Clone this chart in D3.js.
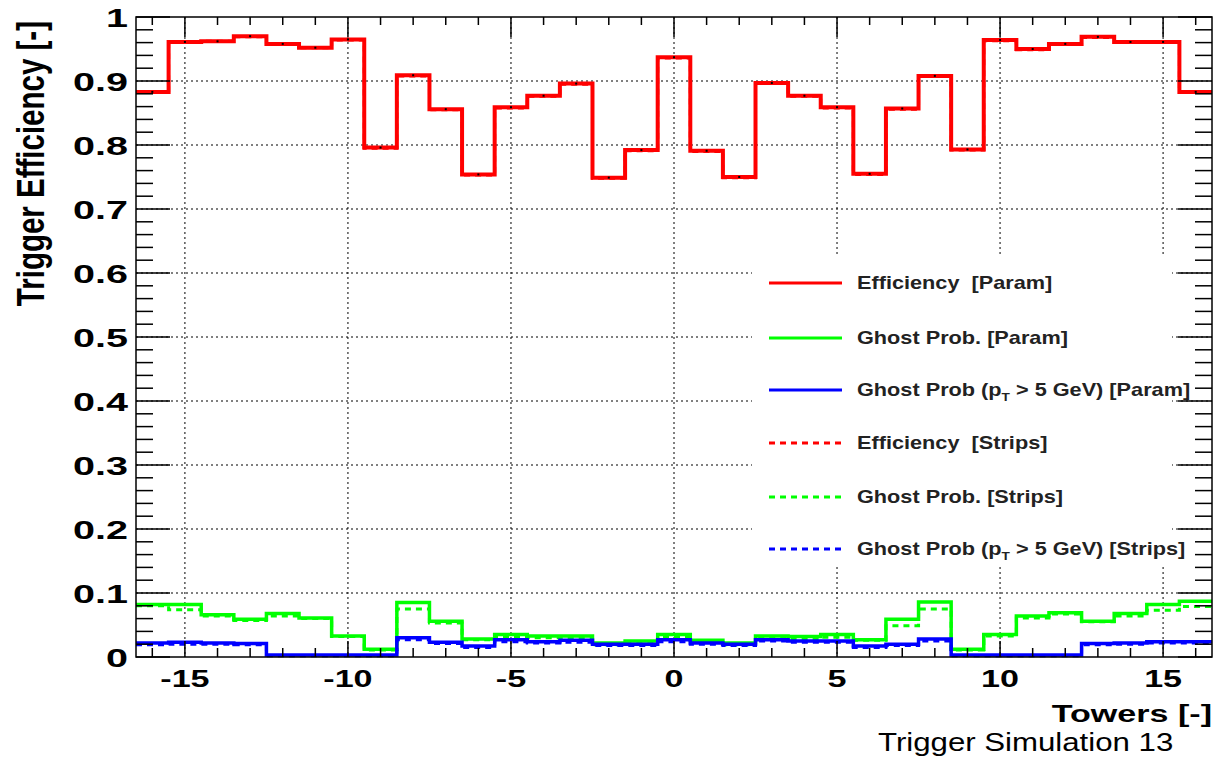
<!DOCTYPE html>
<html><head><meta charset="utf-8">
<script src="https://cdn.jsdelivr.net/npm/d3@7"></script>
<style>
body{margin:0;background:#fff;}
svg{display:block;font-family:"Liberation Sans",Arial,Helvetica,sans-serif;}
</style>
</head><body>
<svg id="c" width="1217" height="757"></svg>
<script>
// ---------------- data ----------------
const towers = [-16,-15,-14,-13,-12,-11,-10,-9,-8,-7,-6,-5,-4,-3,-2,-1,0,1,2,3,4,5,6,7,8,9,10,11,12,13,14,15,16];
const effParam = [0.883,0.961,0.962,0.970,0.958,0.952,0.965,0.796,0.909,0.856,0.754,0.859,0.877,0.896,0.749,0.792,0.937,0.791,0.750,0.897,0.877,0.859,0.755,0.857,0.908,0.793,0.964,0.950,0.958,0.969,0.961,0.961,0.883];
const effStrips = [0.882,0.960,0.962,0.969,0.957,0.952,0.964,0.795,0.908,0.855,0.753,0.858,0.876,0.895,0.748,0.791,0.936,0.790,0.749,0.896,0.876,0.858,0.754,0.856,0.907,0.792,0.963,0.949,0.957,0.968,0.960,0.960,0.882];
const ghostParam = [0.082,0.082,0.066,0.059,0.068,0.061,0.033,0.012,0.085,0.056,0.028,0.035,0.033,0.033,0.022,0.025,0.035,0.026,0.022,0.033,0.032,0.035,0.027,0.059,0.086,0.012,0.035,0.064,0.069,0.056,0.068,0.082,0.087];
const ghostStrips = [0.080,0.074,0.064,0.057,0.064,0.060,0.032,0.011,0.075,0.053,0.027,0.032,0.030,0.030,0.019,0.021,0.031,0.023,0.019,0.030,0.029,0.031,0.026,0.049,0.075,0.011,0.033,0.061,0.067,0.055,0.064,0.073,0.079];
const ghostPtParam = [0.022,0.023,0.022,0.021,0.003,0.003,0.003,0.003,0.030,0.023,0.017,0.027,0.024,0.026,0.020,0.020,0.027,0.022,0.020,0.027,0.025,0.025,0.017,0.020,0.028,0.003,0.003,0.003,0.003,0.021,0.022,0.024,0.024];
const ghostPtStrips = [0.019,0.020,0.020,0.019,0.002,0.002,0.002,0.002,0.027,0.021,0.015,0.024,0.022,0.023,0.018,0.018,0.024,0.020,0.018,0.025,0.023,0.023,0.015,0.018,0.025,0.002,0.002,0.002,0.002,0.019,0.020,0.022,0.022];
const xTickLabels = [-15,-10,-5,0,5,10,15];
const yTickLabels = ["0","0.1","0.2","0.3","0.4","0.5","0.6","0.7","0.8","0.9","1"];
const legendLabels = ["Efficiency\u00a0\u00a0[Param]","Ghost Prob. [Param]","Ghost Prob (p_T > 5 GeV) [Param]","Efficiency\u00a0\u00a0[Strips]","Ghost Prob. [Strips]","Ghost Prob (p_T > 5 GeV) [Strips]"];
const xTitle = "Towers [-]";
const yTitle = "Trigger Efficiency [-]";
const footer = "Trigger Simulation 13";

// ---------------- layout ----------------
const W=1217,H=757;
const L=136,R=1212,T=17,B=657;
const svg=d3.select('#c');
const x=d3.scaleLinear().domain([-16.5,16.5]).range([L,R]);
const y=d3.scaleLinear().domain([0,1]).range([B,T]);
const SX=1.42;

function stext(g,px,py,str,fs,anchor,sx,weight){
  return g.append('text').attr('transform',`translate(${px},${py}) scale(${sx},1)`)
    .attr('font-size',fs).attr('font-weight',weight||'bold').attr('text-anchor',anchor||'start')
    .attr('fill','#000').text(str);
}

// footer
stext(svg,878,751,footer,26,'start',1.2,'normal');

// grid
const gGrid=svg.append('g').attr('stroke','#000').attr('stroke-width',1).attr('stroke-dasharray','2,3');
gGrid.selectAll('line.v').data(xTickLabels).enter().append('line')
  .attr('x1',d=>x(d)).attr('x2',d=>x(d)).attr('y1',T).attr('y2',B);
gGrid.selectAll('line.h').data(yTickLabels.slice(1,-1)).enter().append('line')
  .attr('y1',d=>y(+d)).attr('y2',d=>y(+d)).attr('x1',L).attr('x2',R);

// histograms
function stepPts(vals){
  const pts=[];
  towers.forEach((t,i)=>{pts.push([x(t-0.5),y(vals[i])]);pts.push([x(t+0.5),y(vals[i])]);});
  return pts;
}
const line=d3.line();
const series=[
  {v:ghostParam,c:'#00ff00',w:3.5,dash:null},
  {v:ghostStrips,c:'#00ff00',w:3,dash:'6,5'},
  {v:ghostPtParam,c:'#0000ff',w:3.5,dash:null},
  {v:ghostPtStrips,c:'#0000ff',w:3,dash:'6,5'},
  {v:effStrips,c:'#ff0000',w:3,dash:'6,5'},
  {v:effParam,c:'#ff0000',w:4,dash:null}
];
const gH=svg.append('g');
series.forEach(s=>{
  gH.append('path').attr('d',line(stepPts(s.v))).attr('fill','none').attr('stroke',s.c)
    .attr('stroke-width',s.w).attr('stroke-dasharray',s.dash).attr('stroke-linejoin','miter');
});
gH.selectAll('rect.em').data(towers).enter().append('rect')
  .attr('x',d=>x(d)-1).attr('y',(d,i)=>y(effParam[i])-1).attr('width',2).attr('height',2).attr('fill','#000');

// legend box
const lg=svg.append('g');
lg.append('rect').attr('x',752).attr('y',255).attr('width',420).attr('height',310).attr('fill','#fff');
const lgColors=['#ff0000','#00ff00','#0000ff','#ff0000','#00ff00','#0000ff'];
const lgY=[283,338,390,443,497,549];
legendLabels.forEach((lab,i)=>{
  lg.append('line').attr('x1',769).attr('x2',842).attr('y1',lgY[i]).attr('y2',lgY[i])
    .attr('stroke',lgColors[i]).attr('stroke-width',3).attr('stroke-dasharray',i>=3?'6,5':null);
  const fs=17.5, sx=1.24;
  const t=lg.append('text').attr('transform',`translate(857,${lgY[i]+6}) scale(${sx},1)`)
    .attr('font-size',fs).attr('font-weight','bold').attr('fill','#222');
  if(lab.includes('p_T')){
    const [a,b]=lab.split('p_T');
    t.append('tspan').text(a+'p');
    t.append('tspan').attr('dy',5).attr('font-size',11).text('T');
    t.append('tspan').attr('dy',-5).text(b);
  } else t.text(lab);
});

// frame
svg.append('rect').attr('x',L).attr('y',T).attr('width',R-L).attr('height',B-T)
  .attr('fill','none').attr('stroke','#000').attr('stroke-width',1.5);

// ticks
const gT=svg.append('g').attr('stroke','#000').attr('stroke-width',1.5);
towers.forEach(t=>{
  const major=(t%5===0);
  gT.append('line').attr('x1',x(t)).attr('x2',x(t)).attr('y1',B).attr('y2',B-(major?16:9));
  gT.append('line').attr('x1',x(t)).attr('x2',x(t)).attr('y1',T).attr('y2',T+(major?20:8));
});
const yMinor=d3.range(0,51).map(i=>i/50);
yMinor.forEach((v,i)=>{
  const major=(i%5===0);
  const len=major?34:17;
  gT.append('line').attr('y1',y(v)).attr('y2',y(v)).attr('x1',L).attr('x2',L+len);
  gT.append('line').attr('y1',y(v)).attr('y2',y(v)).attr('x1',R).attr('x2',R-len);
});

// tick labels
xTickLabels.forEach(v=>{
  stext(svg,x(v),687,String(v),24,'middle',SX);
});
yTickLabels.forEach(s=>{
  stext(svg,128,y(+s)+9.5,s,26,'end',1.52);
});

// titles
stext(svg,1212,722,xTitle,24,'end',SX);
svg.append('text').attr('transform',`translate(44,21) rotate(-90) scale(1,1.3)`)
  .attr('font-size',29.5).attr('font-weight','bold').attr('text-anchor','end').text(yTitle);
</script>
</body></html>
